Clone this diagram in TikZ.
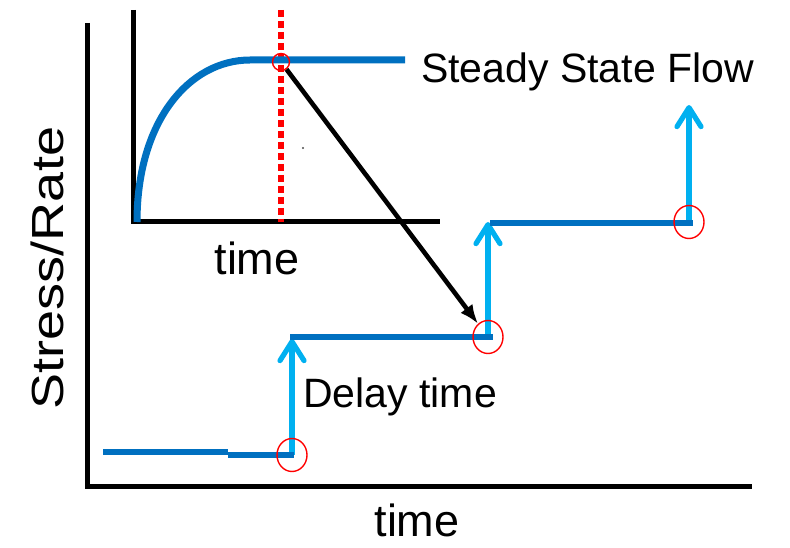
\documentclass[tikz,border=0pt]{standalone}
\usepackage{fontspec}
\setmainfont{Liberation Sans}
\usetikzlibrary{arrows.meta,shapes.geometric}
\definecolor{flowblue}{HTML}{0070C0}
\definecolor{stepblue}{HTML}{00B0F0}
\tikzset{
  axisline/.style={line width=5pt,black},
  flowcurve/.style={line width=7pt,flowblue},
  levelline/.style={line width=5.3pt,flowblue},
  riser/.style={line width=5.2pt,stepblue,
    -{Straight Barb[length=19pt,width=24pt,round]}},
  ring/.style={ellipse,draw=red,line width=1.4pt,minimum width=30pt,
    minimum height=33pt,inner sep=0pt},
  ssring/.style={circle,draw=red,line width=1.4pt,minimum size=17pt,
    inner sep=0pt},
  reddots/.style={red,line width=6pt,dash pattern=on 7pt off 4pt},
  jump/.style={-{Latex[length=19pt,width=15pt]},line width=4.6pt,black},
  lbl/.style={inner sep=0pt,font=\fontsize{41}{41}\selectfont},
  biglbl/.style={inner sep=0pt,font=\fontsize{45}{45}\selectfont},
}
\begin{document}
\begin{tikzpicture}[x=1pt,y=-1pt]
  \useasboundingbox (0,0) rectangle (790,548);
  % main axes
  \draw[axisline] (87,23) -- (87,486) -- (752,486);
  % inset: approach to steady state
  \draw[axisline] (133,10) -- (133,222) -- (440,222);
  \draw[reddots] (281,10) -- (281,222);
  \draw[flowcurve] (137,222) .. controls (137,120) and (190,60) .. (250,60)
    -- (405,60);
  \node[ssring] (ssc) at (281,62) {};
  \fill[black!70] (303,148) circle (1.2);
  % stepped loading
  \foreach \i/\x/\yb/\yt in {1/292/455/339,2/488/337/222,3/689/223/105}{
    \draw[riser] (\x,\yb) -- (\x,\yt);
  }
  \draw[levelline] (103,452) -- (228,452);
  \draw[levelline] (228,455) -- (294,455);
  \draw[levelline] (290,337) -- (493,337);
  \draw[levelline] (490,223) -- (693,223);
  \foreach \i/\x/\y in {1/292/455,2/488/337,3/689/222}{
    \node[ring] (c\i) at (\x,\y) {};
  }
  \draw[jump] (ssc) -- (c2);
  % labels
  \node[lbl,anchor=base west] (ssf) at (421,83) {Steady State Flow};
  \node[lbl,anchor=base west] (dly) at (303,407) {Delay time};
  \node[biglbl,anchor=base] (tin) at (257,275) {time};
  \node[biglbl,anchor=base] (tmain) at (417,536) {time};
  \node[biglbl,anchor=base,rotate=90] (yax) at (63,268)
    {\scalebox{1.2}[1]{Stress/Rate}};
\end{tikzpicture}
\end{document}
